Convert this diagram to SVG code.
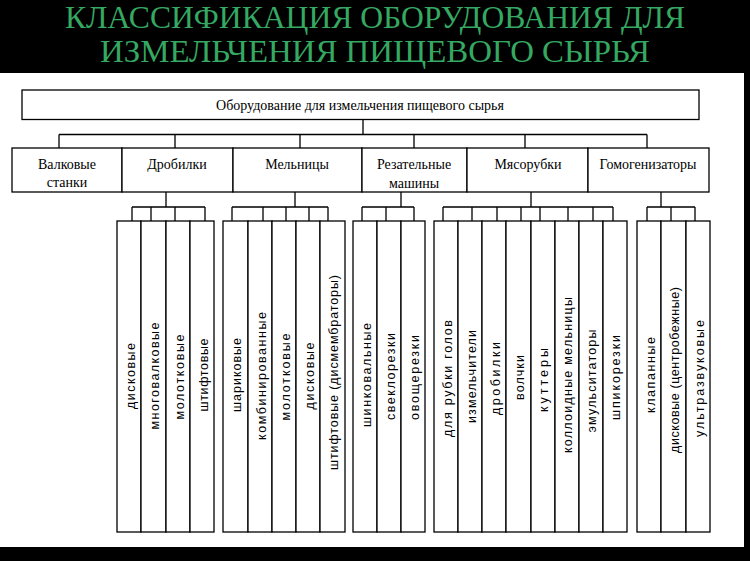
<svg xmlns="http://www.w3.org/2000/svg" width="750" height="561" viewBox="0 0 750 561">
<style>
.box{fill:#fff;stroke:#000;stroke-width:1.3}
.ln{fill:none;stroke:#000;stroke-width:1.3}
.t{font-family:"Liberation Serif","Times New Roman",serif;font-size:14px;fill:#000;text-anchor:middle}
.v{font-family:"Liberation Sans",Arial,sans-serif;font-size:12.5px;fill:#000;text-anchor:middle}
.title{font-family:"Liberation Serif","Times New Roman",serif;font-size:31px;fill:#35a862;text-anchor:middle}
</style>
<rect x="0" y="0" width="750" height="561" fill="#000"/>
<rect x="0" y="73" width="744" height="474" fill="#fff"/>
<g id="title">
<text class="title" x="375" y="28" textLength="620" lengthAdjust="spacingAndGlyphs">КЛАССИФИКАЦИЯ ОБОРУДОВАНИЯ ДЛЯ</text>
<text class="title" x="375" y="62" textLength="550" lengthAdjust="spacingAndGlyphs">ИЗМЕЛЬЧЕНИЯ ПИЩЕВОГО СЫРЬЯ</text>
</g>
<g id="connectors" class="ln">
<path d="M363 119.5V134.5M59 134.5H647M59 134.5V148M175 134.5V148M300 134.5V148M414 134.5V148M525 134.5V148M647 134.5V148"/>
<path d="M166 192V207M132 207H205M132 207V221M151 207V221M175 207V221M205 207V221"/>
<path d="M295 192V207M232 207H328M232 207V221M263 207V221M286 207V221M309 207V221M328 207V221"/>
<path d="M401 192V207M362 207H414M362 207V221M386 207V221M414 207V221"/>
<path d="M531 192V207M443 207H613M443 207V221M472 207V221M497 207V221M521 207V221M540 207V221M568 207V221M593 207V221M613 207V221"/>
<path d="M661 192V207M647 207H695M647 207V221M671 207V221M695 207V221"/>
</g>
<g id="root">
<rect class="box" x="22" y="90" width="677" height="29.5"/>
<text class="t" x="360" y="109.5">Оборудование для измельчения пищевого сырья</text>
</g>
<g id="cat-valkovye">
<rect class="box" x="12" y="148" width="110" height="44"/>
<text class="t" x="67" y="168.5">Валковые</text>
<text class="t" x="67" y="187">станки</text>
</g>
<g id="cat-drobilki">
<rect class="box" x="122" y="148" width="111" height="44"/>
<text class="t" x="177" y="168.5">Дробилки</text>
</g>
<g id="cat-melnitsy">
<rect class="box" x="233" y="148" width="129" height="44"/>
<text class="t" x="297" y="168.5">Мельницы</text>
</g>
<g id="cat-rezatelnye">
<rect class="box" x="362" y="148" width="105" height="44"/>
<text class="t" x="414" y="168.5">Резательные</text>
<text class="t" x="414" y="188">машины</text>
</g>
<g id="cat-myasorubki">
<rect class="box" x="467" y="148" width="121" height="44"/>
<text class="t" x="528" y="168.5">Мясорубки</text>
</g>
<g id="cat-gomogenizatory">
<rect class="box" x="588" y="148" width="121" height="44"/>
<text class="t" x="648" y="168.5">Гомогенизаторы</text>
</g>
<g id="drobilki-types">
<rect class="box" x="117" y="221" width="24" height="311"/>
<rect class="box" x="141" y="221" width="25" height="311"/>
<rect class="box" x="166" y="221" width="24" height="311"/>
<rect class="box" x="190" y="221" width="24" height="311"/>
<text class="v" transform="translate(134.5 376) rotate(-90)" textLength="66">дисковые</text>
<text class="v" transform="translate(159 376) rotate(-90)" textLength="107">многовалковые</text>
<text class="v" transform="translate(183.5 377) rotate(-90)" textLength="85">молотковые</text>
<text class="v" transform="translate(207.5 375) rotate(-90)" textLength="73">штифтовые</text>
</g>
<g id="melnitsy-types">
<rect class="box" x="223" y="221" width="25" height="311"/>
<rect class="box" x="248" y="221" width="24" height="311"/>
<rect class="box" x="272" y="221" width="24" height="311"/>
<rect class="box" x="296" y="221" width="24" height="311"/>
<rect class="box" x="320" y="221" width="25" height="311"/>
<text class="v" transform="translate(241 375) rotate(-90)" textLength="74">шариковые</text>
<text class="v" transform="translate(265.5 376) rotate(-90)" textLength="128">комбинированные</text>
<text class="v" transform="translate(289.5 377) rotate(-90)" textLength="87">молотковые</text>
<text class="v" transform="translate(313.5 376) rotate(-90)" textLength="67">дисковые</text>
<text class="v" transform="translate(338 372.5) rotate(-90)" textLength="195">штифтовые (дисмембраторы)</text>
</g>
<g id="rezatelnye-types">
<rect class="box" x="353" y="221" width="24" height="311"/>
<rect class="box" x="377" y="221" width="24" height="311"/>
<rect class="box" x="401" y="221" width="24" height="311"/>
<text class="v" transform="translate(370.5 375) rotate(-90)" textLength="104">шинковальные</text>
<text class="v" transform="translate(394.5 376.5) rotate(-90)" textLength="87">свеклорезки</text>
<text class="v" transform="translate(418.5 377.5) rotate(-90)" textLength="85">овощерезки</text>
</g>
<g id="myasorubki-types">
<rect class="box" x="434" y="221" width="24" height="311"/>
<rect class="box" x="458" y="221" width="24" height="311"/>
<rect class="box" x="482" y="221" width="24" height="311"/>
<rect class="box" x="506" y="221" width="25" height="311"/>
<rect class="box" x="531" y="221" width="24" height="311"/>
<rect class="box" x="555" y="221" width="24" height="311"/>
<rect class="box" x="579" y="221" width="24" height="311"/>
<rect class="box" x="603" y="221" width="24" height="311"/>
<text class="v" transform="translate(451.5 378.5) rotate(-90)" textLength="117">для рубки голов</text>
<text class="v" transform="translate(475.5 376.5) rotate(-90)" textLength="93">измельчители</text>
<text class="v" transform="translate(499.5 378.5) rotate(-90)" textLength="73">дробилки</text>
<text class="v" transform="translate(523.5 377.5) rotate(-90)" textLength="45">волчки</text>
<text class="v" transform="translate(548 380) rotate(-90)" textLength="64">куттеры</text>
<text class="v" transform="translate(572 375) rotate(-90)" textLength="156">коллоидные мельницы</text>
<text class="v" transform="translate(596 381) rotate(-90)" textLength="103">эмульситаторы</text>
<text class="v" transform="translate(620 377.5) rotate(-90)" textLength="85">шпикорезки</text>
</g>
<g id="gomogenizatory-types">
<rect class="box" x="637" y="221" width="24" height="311"/>
<rect class="box" x="661" y="221" width="25" height="311"/>
<rect class="box" x="686" y="221" width="24" height="311"/>
<text class="v" transform="translate(654.5 375) rotate(-90)" textLength="76">клапанные</text>
<text class="v" transform="translate(679 370) rotate(-90)" textLength="166">дисковые (центробежные)</text>
<text class="v" transform="translate(703.5 378.5) rotate(-90)" textLength="117">ультразвуковые</text>
</g>
</svg>
